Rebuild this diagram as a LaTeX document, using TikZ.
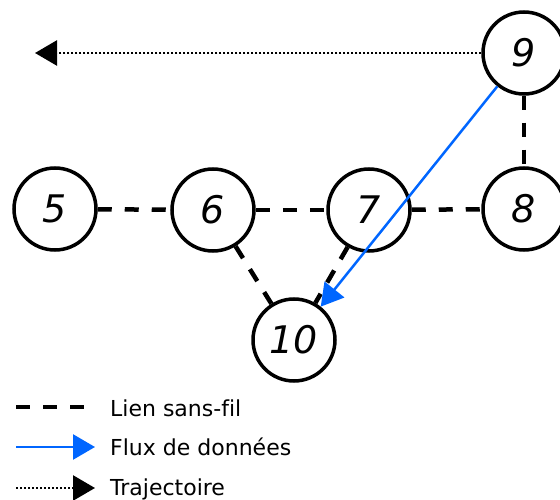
\documentclass[tikz,border=0pt]{standalone}
\usepackage{fontspec}
\setmainfont{DejaVu Sans}[Ligatures=NoCommon]
\usetikzlibrary{arrows.meta}
\definecolor{flowblue}{HTML}{0066FF}
\tikzset{
  netnode/.style={circle,draw=black,line width=3.5pt,minimum size=82pt,inner sep=0pt,
    font=\fontsize{38}{38}\selectfont\itshape},
  wireless/.style={line width=4.5pt,dash pattern=on 14pt off 13pt},
  flow/.style={line width=2.5pt,draw=flowblue,-{Triangle[length=22pt,width=25pt,fill=flowblue]}},
  traj/.style={line width=2.5pt,dash pattern=on 2pt off 2pt,-{Triangle[length=22pt,width=25pt]}},
  legtext/.style={anchor=base west,inner sep=0pt,font=\fontsize{22}{22}\selectfont}
}
\begin{document}
\begin{tikzpicture}[x=1pt,y=-1pt]
\useasboundingbox (0,0) rectangle (560,500);
\node[netnode] (n5) at (55,209) {5};
\node[netnode] (n6) at (213,210) {6};
\node[netnode] (n7) at (369,210) {7};
\node[netnode] (n8) at (524,209) {8};
\node[netnode] (n9) at (524,53) {9};
\node[netnode] (n10) at (294,340) {10};
\coordinate (tr) at (35,53);
\draw[wireless] (n5) -- (n6);
\draw[wireless] (n6) -- (n7);
\draw[wireless] (n7) -- (n8);
\draw[wireless] (n9) -- (n8);
\draw[wireless] (n6) -- (n10);
\draw[wireless] (n7) -- (n10);
\draw[traj] (n9) -- (tr);
\draw[flow] (n9) -- (n10);
% legend
\coordinate (l1a) at (16,407); \coordinate (l1b) at (95,407);
\coordinate (l2a) at (16,447); \coordinate (l2b) at (95,447);
\coordinate (l3a) at (16,488); \coordinate (l3b) at (95,488);
\draw[wireless] (l1a) -- (l1b);
\draw[flow] (l2a) -- (l2b);
\draw[traj] (l3a) -- (l3b);
\node[legtext] (t1) at (110,416) {Lien sans-fil};
\node[legtext] (t2) at (110,455) {Flux de données};
\node[legtext] (t3) at (110,495) {Trajectoire};
\end{tikzpicture}
\end{document}
